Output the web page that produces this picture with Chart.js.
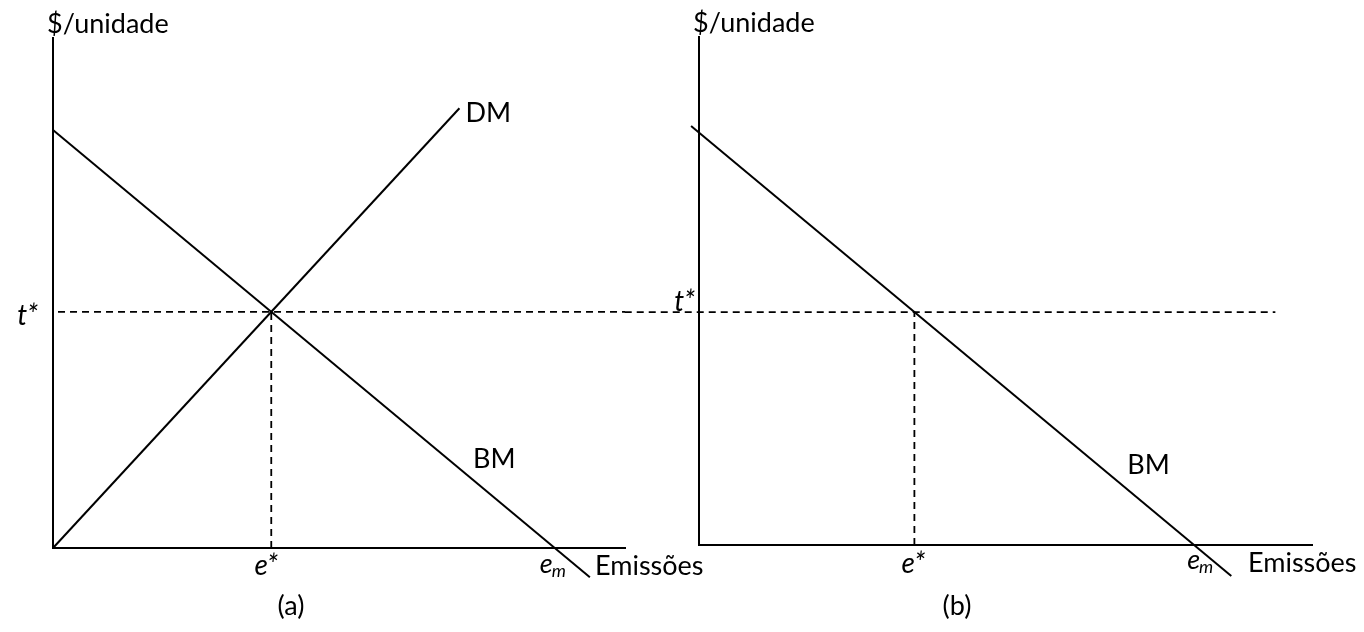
<!DOCTYPE html>
<html>
<head>
<meta charset="utf-8">
<script src="https://cdn.jsdelivr.net/npm/chart.js@4.4.1/dist/chart.umd.min.js"></script>
<style>
  html, body { margin: 0; padding: 0; background: #ffffff; width: 1364px; height: 632px; overflow: hidden; }
  canvas { position: absolute; left: 0; top: 0; }
</style>
</head>
<body>
<canvas id="panelA" width="1364" height="632"></canvas>
<canvas id="panelB" width="1364" height="632"></canvas>
<script>
// Equilibrium: optimal tax t* and emission level e*, uncontrolled emissions e_m
const tStar = 5.65;
const eStar = 4.35;
const eM = 10;

// Panel (a): marginal benefit (BM) and marginal damage (DM) curves
const bmEmissionsA = [0, 10.7];
const bmValuesA = [10, -0.7];
const dmEmissionsA = [0, 8.1];
const dmValuesA = [0, 10.52];
const tLineEmissionsA = [0.1, 11.4];

// Panel (b): marginal benefit curve under the tax
const bmEmissionsB = [-0.16, 10.75];
const bmValuesB = [10.16, -0.75];
const tLineEmissionsB = [-1.5, 11.64];

const FONT = 'Lato, "Open Sans", sans-serif';
const INK = '#000000';

function pts(xs, ys) {
  return xs.map((x, i) => ({ x, y: ys[i] }));
}

function solid(data) {
  return { data, showLine: true, borderColor: INK, borderWidth: 2, pointRadius: 0, clip: false };
}

function dashed(data) {
  return { data, showLine: true, borderColor: INK, borderWidth: 1.8, borderDash: [7, 5], pointRadius: 0, clip: false };
}

// Draws the axis titles, tick symbols and curve names next to the scales
const econLabels = {
  id: 'econLabels',
  afterDraw(chart, args, o) {
    const { ctx } = chart;
    const x = chart.scales.x, y = chart.scales.y;
    const ax = x.getPixelForValue(0), ay = y.getPixelForValue(0);
    const tPx = y.getPixelForValue(tStar), ePx = x.getPixelForValue(eStar), mPx = x.getPixelForValue(eM);
    ctx.save();
    ctx.fillStyle = INK;
    ctx.textBaseline = 'alphabetic';
    const up = (s) => `${s}px ${FONT}`;
    const it = (s) => `italic ${s}px ${FONT}`;

    // axis titles
    ctx.font = up(o.size);
    ctx.textAlign = 'left';
    ctx.fillText('$/unidade', ax - 6, y.top - 5);
    ctx.fillText('Emissões', x.right + o.emisDx, ay + o.emisDy);

    // t*
    ctx.font = it(o.size + 1);
    ctx.textAlign = 'right';
    ctx.fillText('t*', ax + o.tDx, tPx + o.tDy);

    // e*
    ctx.textAlign = 'center';
    ctx.fillText('e*', ePx + o.eDx, ay + o.eDy);

    // e_m
    ctx.font = it(o.size);
    ctx.textAlign = 'left';
    ctx.fillText('e', mPx + o.mDx, ay + o.mDy);
    const ew = ctx.measureText('e').width;
    ctx.font = it(Math.round(o.size * 0.68));
    ctx.fillText('m', mPx + o.mDx + ew - 1, ay + o.mDy + 4);

    // curve names
    ctx.font = up(o.size);
    for (const c of o.curves) {
      ctx.fillText(c.text, x.getPixelForValue(c.e) + c.dx, y.getPixelForValue(c.p) + c.dy);
    }

    // panel letter
    ctx.textAlign = 'center';
    ctx.fillText(o.panel, ax + o.panelDx, ay + o.panelDy);
    ctx.restore();
  }
};

function axis(max, horizontal) {
  return {
    type: 'linear', min: 0, max,
    grid: { display: false, drawTicks: false },
    ticks: { display: false },
    border: { display: true, color: INK, width: 2 },
    afterFit(s) { if (horizontal) s.height = 0; else s.width = 0; }
  };
}

function makeChart(id, datasets, xMax, yMax, padding, labels) {
  return new Chart(document.getElementById(id), {
    type: 'scatter',
    data: { datasets },
    options: {
      responsive: false,
      animation: false,
      devicePixelRatio: 1,
      layout: { padding },
      scales: { x: axis(xMax, true), y: axis(yMax, false) },
      plugins: { legend: { display: false }, tooltip: { enabled: false }, econLabels: labels }
    },
    plugins: [econLabels]
  });
}

makeChart('panelA', [
  solid(pts(bmEmissionsA, bmValuesA)),
  solid(pts(dmEmissionsA, dmValuesA)),
  dashed(pts(tLineEmissionsA, [tStar, tStar])),
  dashed(pts([eStar, eStar], [0, tStar]))
], 11.4, 12.2, { left: 53, right: 739, top: 38, bottom: 84 }, {
  size: 27,
  emisDx: -30, emisDy: 27,
  tDx: -15, tDy: 13,
  eDx: -5, eDy: 27,
  mDx: -15, mDy: 25,
  panelDx: 238, panelDy: 67,
  panel: '(a)',
  curves: [
    { text: 'DM', e: 8.1, p: 10.52, dx: 6, dy: 14 },
    { text: 'BM', e: 8.37, p: 1.92, dx: 0, dy: 0 }
  ]
});

makeChart('panelB', [
  solid(pts(bmEmissionsB, bmValuesB)),
  dashed(pts(tLineEmissionsB, [tStar, tStar])),
  dashed(pts([eStar, eStar], [0, tStar]))
], 12.38, 12.32, { left: 699, right: 52, top: 37, bottom: 87 }, {
  size: 27,
  emisDx: -64, emisDy: 27,
  tDx: -4, tDy: -1,
  eDx: -1, eDy: 28,
  mDx: -7, mDy: 24,
  panelDx: 258, panelDy: 70,
  panel: '(b)',
  curves: [
    { text: 'BM', e: 8.65, p: 1.72, dx: 0, dy: 0 }
  ]
});
</script>
</body>
</html>
